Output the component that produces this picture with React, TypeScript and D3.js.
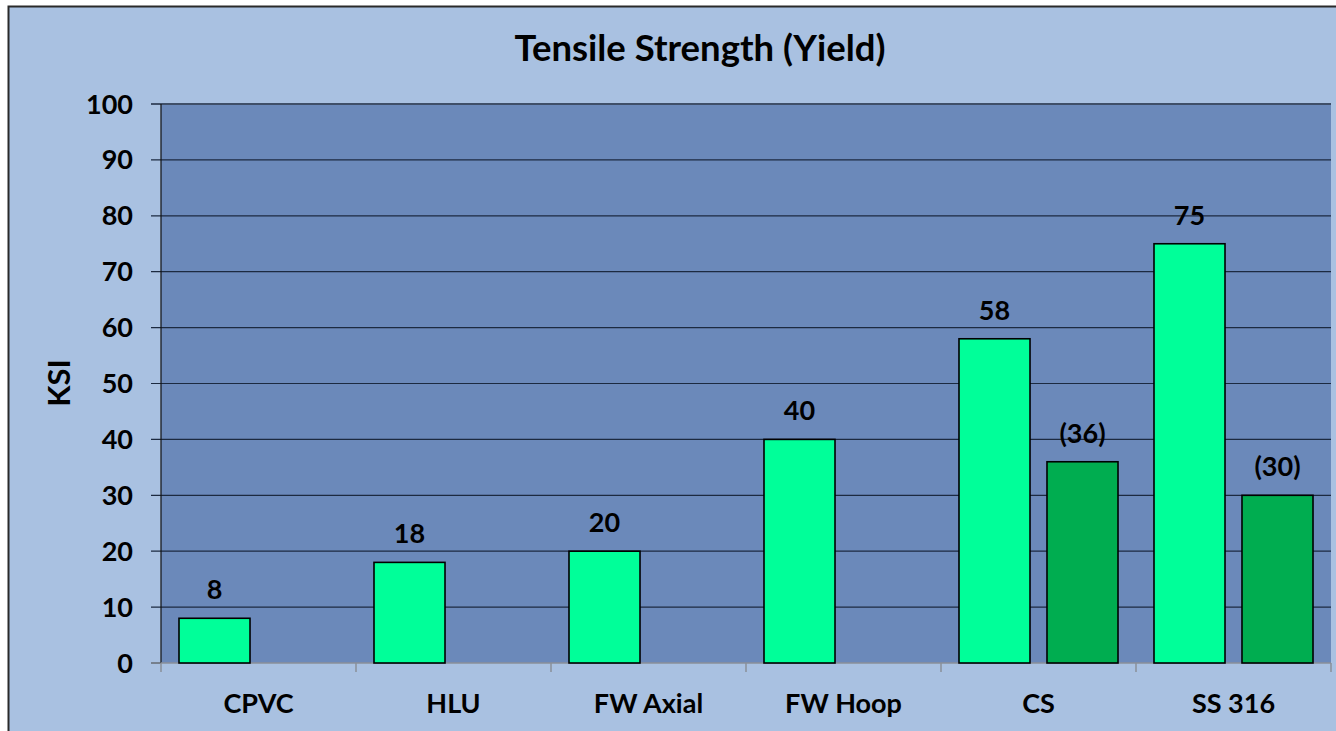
import { useEffect, useRef } from "react";
import * as d3 from "d3";

const categories = ["CPVC", "HLU", "FW Axial", "FW Hoop", "CS", "SS 316"];
const yieldValues = [8, 18, 20, 40, 58, 75];
// second series only for metals (shown in parentheses)
const secondValues: (number | null)[] = [null, null, null, null, 36, 30];
const yTicks = [0, 10, 20, 30, 40, 50, 60, 70, 80, 90, 100];

const App = () => {
  const svgRef = useRef<SVGSVGElement>(null);

  useEffect(() => {
    if (!svgRef.current) return;
    const width = 1336;
    const height = 731;
    const font = "Lato, 'Open Sans', sans-serif";

    const svg = d3.select(svgRef.current);
    svg.selectAll("*").remove();

    // outer chart area
    svg
      .append("rect")
      .attr("x", 8.5)
      .attr("y", 6.5)
      .attr("width", width)
      .attr("height", height)
      .attr("fill", "#a9c1e1")
      .attr("stroke", "#2a2a2a")
      .attr("stroke-width", 2);

    const plot = { left: 161, top: 104, right: 1331, bottom: 663 };

    const x = d3
      .scaleBand()
      .domain(categories)
      .range([plot.left, plot.right])
      .paddingInner(0)
      .paddingOuter(0);

    const inner = d3
      .scaleBand()
      .domain(["a", "b"])
      .range([0, x.bandwidth()])
      .paddingInner(0.193)
      .paddingOuter(0.2045);

    const y = d3.scaleLinear().domain([0, 100]).range([plot.bottom, plot.top]);

    // plot background
    svg
      .append("rect")
      .attr("x", plot.left)
      .attr("y", plot.top)
      .attr("width", plot.right - plot.left)
      .attr("height", plot.bottom - plot.top)
      .attr("fill", "#6b89ba");

    // gridlines
    svg
      .append("g")
      .selectAll("line")
      .data(yTicks.filter((t) => t > 0))
      .join("line")
      .attr("x1", plot.left - 10)
      .attr("x2", plot.right)
      .attr("y1", (d) => y(d))
      .attr("y2", (d) => y(d))
      .attr("stroke", (d) => (d === 100 ? "#3f4f68" : "#1c2a40"))
      .attr("stroke-width", (d) => (d === 100 ? 2 : 1.2));

    // y axis line
    svg
      .append("line")
      .attr("x1", plot.left)
      .attr("x2", plot.left)
      .attr("y1", plot.top)
      .attr("y2", plot.bottom)
      .attr("stroke", "#111")
      .attr("stroke-width", 1.2);

    svg
      .append("line")
      .attr("x1", plot.left - 10)
      .attr("x2", plot.left)
      .attr("y1", plot.bottom)
      .attr("y2", plot.bottom)
      .attr("stroke", "#555")
      .attr("stroke-width", 1.2);

    // y tick labels
    svg
      .append("g")
      .selectAll("text")
      .data(yTicks)
      .join("text")
      .attr("x", 133)
      .attr("y", (d) => y(d) + 9.5)
      .attr("text-anchor", "end")
      .style("font", `bold 27px ${font}`)
      .attr("fill", "#000")
      .text((d) => d);

    // x axis line and category dividers
    svg
      .append("line")
      .attr("x1", plot.left)
      .attr("x2", plot.right)
      .attr("y1", plot.bottom)
      .attr("y2", plot.bottom)
      .attr("stroke", "#8a8f99")
      .attr("stroke-width", 1.5);

    const dividers = categories.map((c) => x(c)!).concat([plot.right]);
    svg
      .append("g")
      .selectAll("line")
      .data(dividers)
      .join("line")
      .attr("x1", (d) => d)
      .attr("x2", (d) => d)
      .attr("y1", plot.bottom)
      .attr("y2", plot.bottom + 9)
      .attr("stroke", "#8a8f99")
      .attr("stroke-width", 1.5);

    // category labels
    svg
      .append("g")
      .selectAll("text")
      .data(categories)
      .join("text")
      .attr("x", (d) => x(d)! + x.bandwidth() / 2)
      .attr("y", 713)
      .attr("text-anchor", "middle")
      .style("font", `bold 27px ${font}`)
      .text((d) => d);

    // bars - first series
    const bars1 = svg.append("g");
    bars1
      .selectAll("rect")
      .data(yieldValues)
      .join("rect")
      .attr("x", (d, i) => x(categories[i])! + inner("a")!)
      .attr("y", (d) => y(d))
      .attr("width", inner.bandwidth())
      .attr("height", (d) => plot.bottom - y(d))
      .attr("fill", "#00ff99")
      .attr("stroke", "#000")
      .attr("stroke-width", 1.6);

    bars1
      .selectAll("text")
      .data(yieldValues)
      .join("text")
      .attr("x", (d, i) => x(categories[i])! + inner("a")! + inner.bandwidth() / 2)
      .attr("y", (d) => y(d) - 19)
      .attr("text-anchor", "middle")
      .style("font", `bold 27px ${font}`)
      .text((d) => d);

    // bars - second series
    const second = secondValues
      .map((v, i) => ({ v, c: categories[i] }))
      .filter((d) => d.v !== null) as { v: number; c: string }[];

    const bars2 = svg.append("g");
    bars2
      .selectAll("rect")
      .data(second)
      .join("rect")
      .attr("x", (d) => x(d.c)! + inner("b")!)
      .attr("y", (d) => y(d.v))
      .attr("width", inner.bandwidth())
      .attr("height", (d) => plot.bottom - y(d.v))
      .attr("fill", "#00ad50")
      .attr("stroke", "#000")
      .attr("stroke-width", 1.6);

    bars2
      .selectAll("text")
      .data(second)
      .join("text")
      .attr("x", (d) => x(d.c)! + inner("b")! + inner.bandwidth() / 2)
      .attr("y", (d) => y(d.v) - 19)
      .attr("text-anchor", "middle")
      .style("font", `bold 27px ${font}`)
      .text((d) => `(${d.v})`);

    // title
    svg
      .append("text")
      .attr("x", 700)
      .attr("y", 61)
      .attr("text-anchor", "middle")
      .style("font", `bold 36.5px ${font}`)
      .text("Tensile Strength (Yield)");

    // y axis title
    svg
      .append("text")
      .attr("transform", `translate(70,383) rotate(-90)`)
      .attr("text-anchor", "middle")
      .style("font", `bold 31px ${font}`)
      .text("KSI");
  }, []);

  return (
    <svg
      ref={svgRef}
      width={1336}
      height={731}
      style={{ position: "absolute", left: 0, top: 0, display: "block" }}
    ></svg>
  );
};

export default App;
